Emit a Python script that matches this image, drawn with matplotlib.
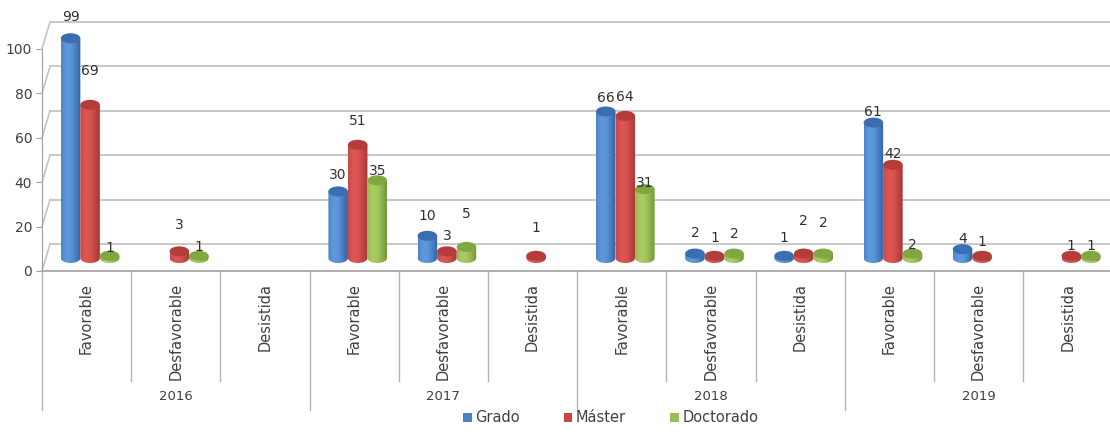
import matplotlib
matplotlib.use("Agg")
import matplotlib.pyplot as plt
import numpy as np
from matplotlib.patches import Ellipse, Patch, Polygon
from matplotlib.colors import to_rgb

years = ["2016", "2017", "2018", "2019"]
outcomes = ["Favorable", "Desfavorable", "Desistida"]
series = ["Grado", "Máster", "Doctorado"]

# one value per (year, outcome), 0 = no bar
grado = [99, 0, 0, 30, 10, 0, 66, 2, 1, 61, 4, 0]
master = [69, 3, 0, 51, 3, 1, 64, 1, 2, 42, 1, 1]
doctorado = [1, 1, 0, 35, 5, 0, 31, 2, 2, 2, 0, 1]

# how high each value label sits above its bar top (pixels)
lift_grado = [21, 0, 0, 16, 20, 0, 13, 21, 18, 11, 10, 0]
lift_master = [34, 26, 0, 24, 15, 28, 19, 18, 33, 11, 14, 10]
lift_doct = [8, 9, 0, 9, 33, 0, 6, 20, 31, 9, 0, 10]

# dark, mid, light
shades = [("#2c5c9c", "#4a80c4", "#5e98dc"),
          ("#a03230", "#c84644", "#dc5652"),
          ("#6a9030", "#98bd52", "#aacc62")]

TXT = "#404040"
GRID = "#c4c4c4"
W, H = 1110, 432
PX = 2.22    # pixels per value unit
CAT = 89.2   # pixels per category
EH = 10 / PX  # cylinder cap height in value units
BW = 0.219   # bar width in categories

plt.rcParams["font.family"] = ["DejaVu Sans"]

fig = plt.figure(figsize=(W / 100, H / 100), dpi=100)


def box(left, top, right, bottom):
    return [left / W, 1 - bottom / H, (right - left) / W, (bottom - top) / H]


ncat = len(years) * len(outcomes)
xmax = -0.5 + 1068 / CAT

# back wall with the gridlines
axb = fig.add_axes(box(50, 22, 1110, 244))
axb.set_xlim(0, 1)
axb.set_ylim(0, 100)
axb.axis("off")
for v in range(0, 101, 20):
    axb.axhline(v, color=GRID, lw=1.3, clip_on=False)

# front plane: value axis, floor, category labels
axf = fig.add_axes(box(42, 22, 1110, 271))
axf.set_facecolor("none")
axf.set_xlim(-0.5, xmax)
axf.set_ylim(0, 249 / PX)
axf.set_yticks(range(0, 101, 20))
axf.set_yticklabels([str(v) for v in range(0, 101, 20)])
axf.tick_params(axis="y", length=4, color="#a0a0a0", labelcolor=TXT,
                labelsize=10, pad=3)
axf.tick_params(axis="x", bottom=False, labelbottom=False)
for side in ["top", "right"]:
    axf.spines[side].set_visible(False)
axf.spines["left"].set_bounds(0, 100)
axf.spines["left"].set_color("#a0a0a0")
axf.spines["bottom"].set_color("#a8a8a8")
axf.spines["bottom"].set_linewidth(1.3)
for v in range(0, 101, 20):
    axf.plot([-0.5, -0.5 + 8 / CAT], [v, v + 27 / PX], color=GRID, lw=1.2,
             clip_on=False)

for i in range(ncat + 1):
    depth = 139 if i % 3 == 0 else 110
    axf.plot([i - 0.5, i - 0.5], [0, -depth / PX], color="#b4b4b4", lw=1,
             clip_on=False)
for i in range(ncat):
    axf.annotate(outcomes[i % 3], xy=(i, 0), xytext=(0, -12),
                 textcoords="offset pixels", rotation=90, ha="center",
                 va="top", fontsize=10.5, color=TXT, annotation_clip=False)
for k, y in enumerate(years):
    axf.annotate(y, xy=(3 * k + 1, 0), xytext=(0, -126),
                 textcoords="offset pixels", ha="center", va="center",
                 fontsize=9.5, color=TXT, annotation_clip=False)

# cylinders
axr = fig.add_axes(box(45.5, 22, 45.5 + 1068, 268))
axr.set_facecolor("none")
axr.axis("off")

t = np.linspace(0, 1, 64)
light = np.clip(0.5 + 0.5 * np.cos((t * 2 - 1) * np.pi / 2 * 1.15 + 0.55), 0, 1)

for s, (vals, lifts) in enumerate(zip([grado, master, doctorado],
                                      [lift_grado, lift_master, lift_doct])):
    dark, mid, lite = (np.array(to_rgb(c)) for c in shades[s])
    grad = dark[None, :] + (lite - dark)[None, :] * light[:, None]
    for i, v in enumerate(vals):
        if v <= 0:
            continue
        xc = i + (s - 1) * BW
        x0, x1 = xc - BW / 2, xc + BW / 2
        im = axr.imshow(grad[None, :, :], extent=(x0, x1, -EH / 2, v),
                        aspect="auto", interpolation="bilinear", zorder=2)
        ang = np.linspace(np.pi, 2 * np.pi, 40)
        arc = np.column_stack([xc + BW / 2 * np.cos(ang), EH / 2 * np.sin(ang)])
        body = Polygon(np.vstack([arc, [[x1, v], [x0, v]]]), closed=True,
                       transform=axr.transData, facecolor="none", edgecolor="none")
        axr.add_patch(body)
        im.set_clip_path(body)
        axr.add_patch(Ellipse((xc, v), BW, EH, facecolor=dark * 0.5 + mid * 0.5,
                              edgecolor="none", zorder=3))
        axr.annotate(str(v), xy=(xc, v), xytext=(0, lifts[i]),
                     textcoords="offset pixels", ha="center", va="center",
                     fontsize=10, color="#303030", zorder=5, annotation_clip=False)

axr.set_xlim(-0.5, xmax)
axr.set_ylim(-10 / PX, 236 / PX)

handles = [Patch(facecolor=shades[s][1]) for s in range(3)]
fig.legend(handles, series, loc="lower center", bbox_to_anchor=(0.55, -0.015),
           ncol=3, frameon=False, handlelength=0.6, handleheight=0.6,
           handletextpad=0.25, columnspacing=3.0, fontsize=10.5,
           labelcolor=TXT)

fig.savefig("out.png", dpi=100)
